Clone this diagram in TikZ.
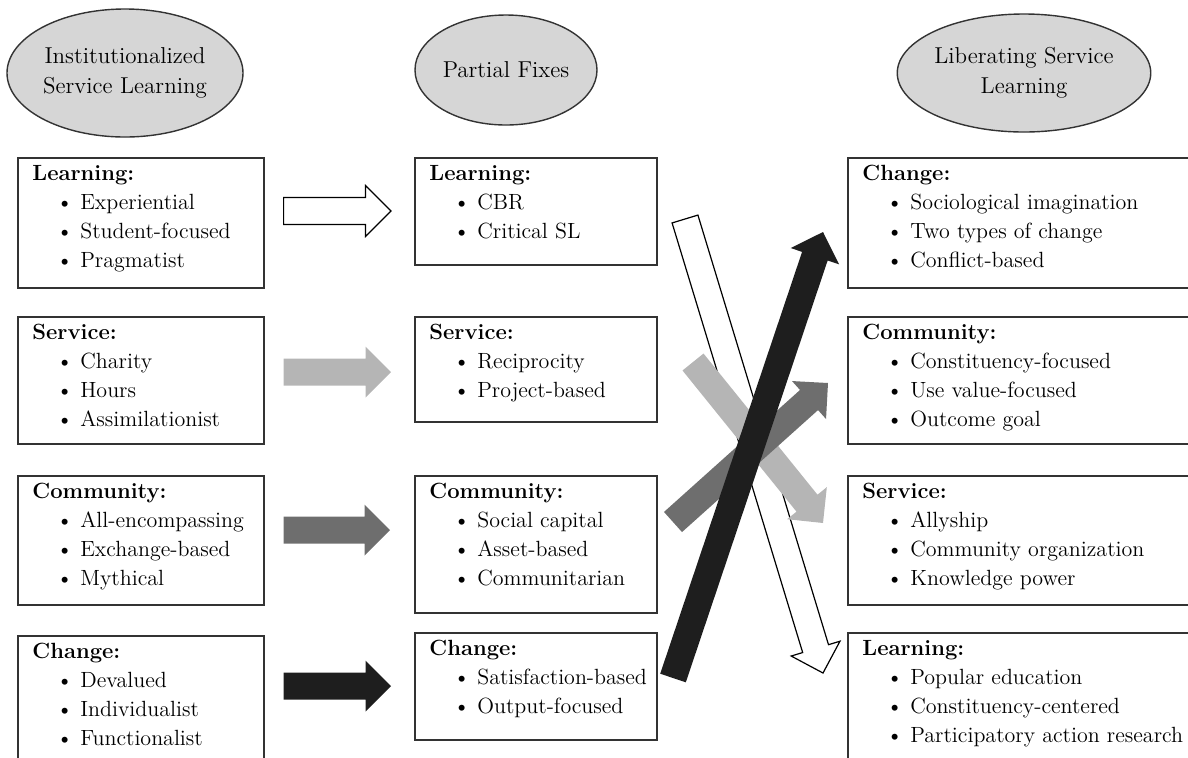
\documentclass[tikz,border=0pt]{standalone}
\usepackage{tikz}
\usetikzlibrary{calc,shapes.geometric}
\definecolor{ellfill}{HTML}{D6D6D6}
\definecolor{lgray}{HTML}{B5B5B5}
\definecolor{dgray}{HTML}{6E6E6E}
\definecolor{blk}{HTML}{1E1E1E}
\definecolor{edge}{HTML}{333333}
\newcommand{\itm}[1]{\\\hspace*{12pt}\textbullet\ #1}
% block arrow: #1 style, #2 start coordinate, #3 tip coordinate
\newcommand{\barrow}[3]{%
  \coordinate (#2h) at ($(#3)!12.75pt!(#2)$);
  \path[#1] ($(#2)!6.75pt!90:(#3)$) -- ($(#2h)!6.75pt!90:(#3)$)
    -- ($(#2h)!12.75pt!90:(#3)$) -- (#3) -- ($(#2h)!12.75pt!-90:(#3)$)
    -- ($(#2h)!6.75pt!-90:(#3)$) -- ($(#2)!6.75pt!-90:(#3)$) -- cycle;}
\tikzset{
  ell/.style={ellipse, draw=edge, line width=0.7pt, fill=ellfill, align=center,
    inner sep=0pt, font=\fontsize{11.5}{15}\selectfont},
  box/.style={draw=edge, line width=0.8pt, anchor=north west, inner sep=0pt},
  txt/.style={anchor=north west, align=left, inner sep=0pt,
    font=\fontsize{11}{14.5}\selectfont},
  whitearr/.style={fill=white, draw=black, line width=0.6pt, line join=miter},
  lgarr/.style={fill=lgray},
  dgarr/.style={fill=dgray},
  bkarr/.style={fill=blk},
}
\newcommand{\bx}[6]{% name, x1, y1, x2, y2, text
  \node[box, minimum width={(#4-#2)*0.5pt}, minimum height={(#5-#3)*0.5pt}] (#1) at (#2,#3) {};
  \node[txt] (#1t) at ($(#1.north west)+(15,8)$) {#6};}
\begin{document}
\begin{tikzpicture}[x=0.5pt,y=-0.5pt]
\useasboundingbox (0,0) rectangle (1188,757);
% ellipses
\node[ell, minimum width=118pt, minimum height=64pt] (e1) at (125,73) {Institutionalized\\Service Learning};
\node[ell, minimum width=91pt, minimum height=55pt] (e2) at (506,70) {Partial Fixes};
\node[ell, minimum width=119pt, minimum height=59pt] (e3) at (1024,73) {Liberating Service\\Learning};
% left column
\bx{L1}{17}{157}{263}{287}{\textbf{Learning:}\itm{Experiential}\itm{Student-focused}\itm{Pragmatist}}
\bx{L2}{17}{316}{263}{443}{\textbf{Service:}\itm{Charity}\itm{Hours}\itm{Assimilationist}}
\bx{L3}{17}{475}{263}{604}{\textbf{Community:}\itm{All-encompassing}\itm{Exchange-based}\itm{Mythical}}
\bx{L4}{17}{635}{263}{775}{\textbf{Change:}\itm{Devalued}\itm{Individualist}\itm{Functionalist}}
% middle column
\bx{M1}{414}{157}{656}{264}{\textbf{Learning:}\itm{CBR}\itm{Critical SL}}
\bx{M2}{414}{316}{656}{421}{\textbf{Service:}\itm{Reciprocity}\itm{Project-based}}
\bx{M3}{414}{475}{656}{612}{\textbf{Community:}\itm{Social capital}\itm{Asset-based}\itm{Communitarian}}
\bx{M4}{414}{632}{656}{739}{\textbf{Change:}\itm{Satisfaction-based}\itm{Output-focused}}
% right column
\bx{R1}{847}{157}{1200}{287}{\textbf{Change:}\itm{Sociological imagination}\itm{Two types of change}\itm{Conflict-based}}
\bx{R2}{847}{316}{1200}{443}{\textbf{Community:}\itm{Constituency-focused}\itm{Use value-focused}\itm{Outcome goal}}
\bx{R3}{847}{475}{1200}{604}{\textbf{Service:}\itm{Allyship}\itm{Community organization}\itm{Knowledge power}}
\bx{R4}{847}{632}{1200}{775}{\textbf{Learning:}\itm{Popular education}\itm{Constituency-centered}\itm{Participatory action research}}
% horizontal arrows
\coordinate (a1) at ($(L1.north east)+(19,54)$);  \coordinate (a1t) at ($(M1.north west)+(-23,54)$);
\coordinate (a2) at ($(L2.north east)+(19,56)$);  \coordinate (a2t) at ($(M2.north west)+(-23,56)$);
\coordinate (a3) at ($(L3.north east)+(19,55)$);  \coordinate (a3t) at ($(M3.north west)+(-24,55)$);
\coordinate (a4) at ($(L4.north east)+(19,51)$);  \coordinate (a4t) at ($(M4.north west)+(-23,54)$);
\barrow{whitearr}{a1}{a1t}
\barrow{lgarr}{a2}{a2t}
\barrow{dgarr}{a3}{a3t}
\barrow{bkarr}{a4}{a4t}
% crossing arrows
\coordinate (d1) at (685,219); \coordinate (d1t) at (823,673);
\coordinate (d2) at (693,362); \coordinate (d2t) at (823,523);
\coordinate (d3) at (673,522); \coordinate (d3t) at (828,383);
\coordinate (d4) at (673,678); \coordinate (d4t) at (823,232);
\barrow{whitearr}{d1}{d1t}
\barrow{lgarr}{d2}{d2t}
\barrow{dgarr}{d3}{d3t}
\barrow{bkarr}{d4}{d4t}
\end{tikzpicture}
\end{document}
